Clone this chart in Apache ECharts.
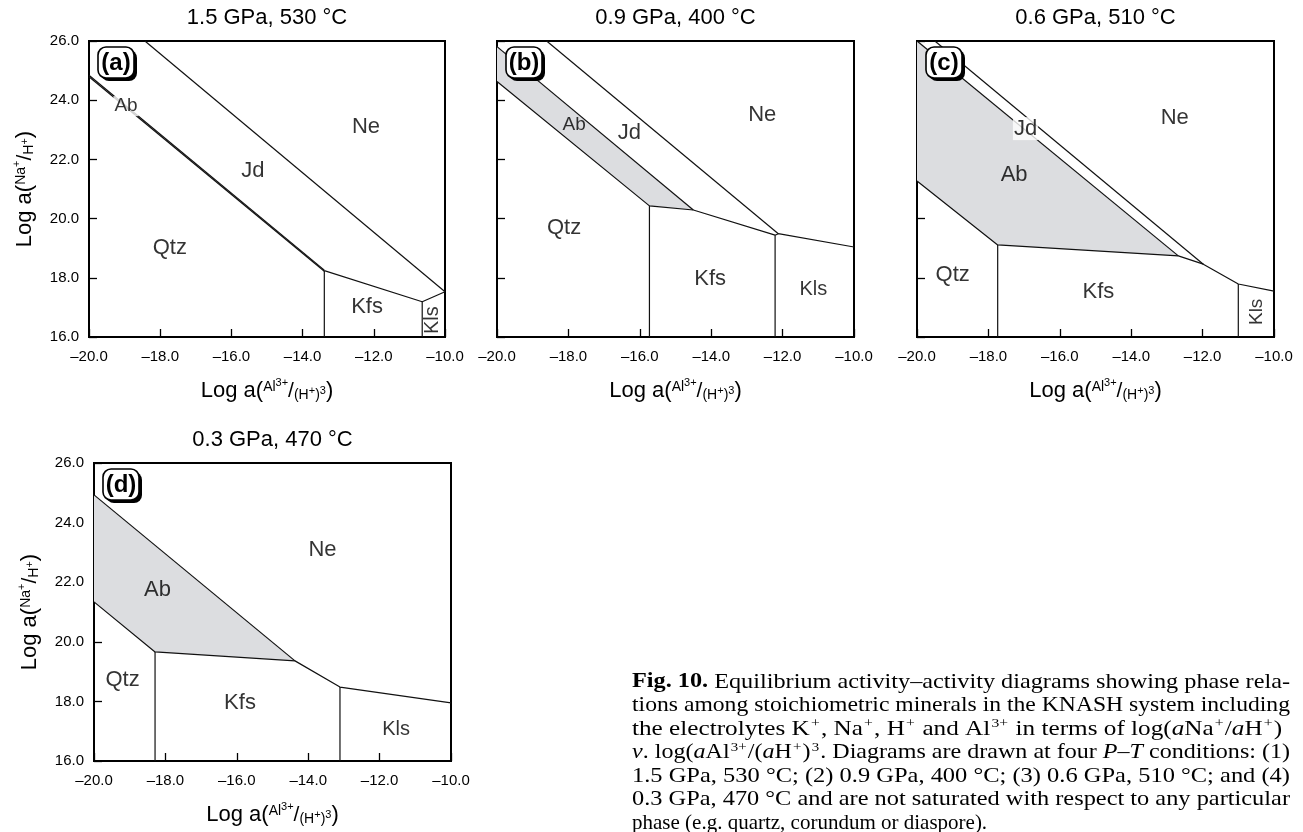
<!DOCTYPE html>
<html>
<head>
<meta charset="utf-8">
<script src="https://cdn.jsdelivr.net/npm/echarts@6/dist/echarts.min.js"></script>
<style>
html,body{margin:0;padding:0;background:#fff;}
#c{width:1303px;height:832px;}
</style>
</head>
<body>
<div id="c"></div>
<script>
// ---------------- data ----------------
const xTickValues = [-20, -18, -16, -14, -12, -10];
const yTickValues = [16, 18, 20, 22, 24, 26];
const panelTitles = ['1.5 GPa, 530 °C', '0.9 GPa, 400 °C', '0.6 GPa, 510 °C', '0.3 GPa, 470 °C'];
const panelTags = ['(a)', '(b)', '(c)', '(d)'];

// phase boundaries: log a(Al3+/(H+)3) , log a(Na+/H+)
const boundariesA = [
  [[-18.43, 26.0], [-10.0, 17.53]],
  [[-20.0, 24.84], [-13.39, 18.26]],
  [[-20.0, 24.79], [-13.39, 18.22]],
  [[-13.39, 18.24], [-10.64, 17.19], [-10.0, 17.53]],
  [[-13.39, 18.24], [-13.39, 16.0]],
  [[-10.64, 17.19], [-10.64, 16.0]]
];
const boundariesB = [
  [[-18.61, 26.0], [-12.12, 19.49]],
  [[-20.0, 25.81], [-14.5, 20.29]],
  [[-20.0, 24.63], [-15.73, 20.43], [-14.5, 20.29], [-12.21, 19.44], [-12.12, 19.49], [-10.0, 19.04]],
  [[-15.73, 20.43], [-15.73, 16.0]],
  [[-12.21, 19.44], [-12.21, 16.0]]
];
const boundariesC = [
  [[-19.5, 26.0], [-11.98, 18.46]],
  [[-20.0, 26.0], [-12.68, 18.74]],
  [[-20.0, 21.27], [-17.74, 19.11], [-12.68, 18.74], [-11.98, 18.46], [-11.0, 17.79], [-10.0, 17.55]],
  [[-17.74, 19.11], [-17.74, 16.0]],
  [[-11.0, 17.79], [-11.0, 16.0]]
];
const boundariesD = [
  [[-20.0, 24.93], [-14.37, 19.36]],
  [[-20.0, 21.34], [-18.29, 19.66], [-14.37, 19.36], [-13.11, 18.48], [-10.0, 17.95]],
  [[-18.29, 19.66], [-18.29, 16.0]],
  [[-13.11, 18.48], [-13.11, 16.0]]
];

// albite stability fields (shaded)
const albiteFieldA = [];
const albiteFieldB = [[-20.0, 25.81], [-14.5, 20.29], [-15.73, 20.43], [-20.0, 24.63]];
const albiteFieldC = [[-20.0, 26.0], [-12.68, 18.74], [-17.74, 19.11], [-20.0, 21.27]];
const albiteFieldD = [[-20.0, 24.93], [-14.37, 19.36], [-18.29, 19.66], [-20.0, 21.34]];

// field names
const fieldLabelsA = [['Ab', -18.96, 23.8], ['Jd', -15.4, 21.62], ['Ne', -12.22, 23.1], ['Qtz', -17.73, 19.0], ['Kfs', -12.19, 17.02], ['Kls', -10.34, 16.57]];
const fieldLabelsB = [['Ab', -17.84, 23.16], ['Jd', -16.29, 22.88], ['Ne', -12.57, 23.5], ['Qtz', -18.12, 19.67], ['Kfs', -14.03, 17.95], ['Kls', -11.14, 17.59]];
const fieldLabelsC = [['Jd', -16.96, 23.04], ['Ab', -17.28, 21.47], ['Ne', -12.78, 23.39], ['Qtz', -19.0, 18.09], ['Kfs', -14.92, 17.53], ['Kls', -10.48, 16.85]];
const fieldLabelsD = [['Ab', -18.22, 21.74], ['Ne', -13.6, 23.08], ['Qtz', -19.2, 18.72], ['Kfs', -15.91, 17.94], ['Kls', -11.54, 17.06]];

const captionLines = [
  '{b|Fig. 10.}{n| Equilibrium activity–activity diagrams showing phase rela-}',
  '{n|tions among stoichiometric minerals in the KNASH system including}',
  '{n|the electrolytes K}{sup|+}{n|, Na}{sup|+}{n|, H}{sup|+}{n| and Al}{sup|3+}{n| in terms of log(}{i|a}{n|Na}{sup|+}{n|/}{i|a}{n|H}{sup|+}{n|)}',
  '{i|v}{n|. log(}{i|a}{n|Al}{sup|3+}{n|/(}{i|a}{n|H}{sup|+}{n|)}{sup|3}{n|. Diagrams are drawn at four }{i|P–T}{n| conditions: (1)}',
  '{n|1.5 GPa, 530 °C; (2) 0.9 GPa, 400 °C; (3) 0.6 GPa, 510 °C; and (4)}',
  '{n|0.3 GPa, 470 °C and are not saturated with respect to any particular}',
  '{n|phase (e.g. quartz, corundum or diaspore).}'
];

// ---------------- layout / style ----------------
const FONT = '"Liberation Sans", Arial, Helvetica, sans-serif';
const SERIF = '"Liberation Serif", "Times New Roman", serif';
const GRAY = '#dcdde0';
const INK = '#111';

const grids = [
  {left: 89, top: 41, width: 356, height: 296},
  {left: 497, top: 41, width: 357, height: 296},
  {left: 917, top: 41, width: 357, height: 296},
  {left: 94, top: 463, width: 357, height: 298}
];
const boundaries = [boundariesA, boundariesB, boundariesC, boundariesD];
const fields = [albiteFieldA, albiteFieldB, albiteFieldC, albiteFieldD];
const fieldLabels = [fieldLabelsA, fieldLabelsB, fieldLabelsC, fieldLabelsD];
const showYLabels = [true, false, false, true];

const smallLabel = {0: {Ab: 19, Kls: 20}, 1: {Ab: 19, Kls: 20}, 2: {Kls: 19}, 3: {Kls: 20}};
const rotatedLabel = {0: ['Kls'], 2: ['Kls']};
const boxedLabel = {0: ['Ab'], 2: ['Jd']};

const nameRich = {
  m: {fontFamily: FONT, fontSize: 22, color: '#000'},
  sl: {fontFamily: FONT, fontSize: 21, color: '#000'},
  s: {fontFamily: FONT, fontSize: 14, color: '#000', padding: [0, 0, 8, 0]},
  ss: {fontFamily: FONT, fontSize: 11, color: '#000', padding: [0, 0, 17, 0]},
  b: {fontFamily: FONT, fontSize: 14, color: '#000', padding: [8, 0, 0, 0]},
  bs: {fontFamily: FONT, fontSize: 11, color: '#000', padding: [0, 0, 0, 0]}
};
const xName = '{m|Log a(}{s|Al}{ss|3+}{sl|/}{b|(H}{bs|+}{b|)}{bs|3}{m|)}';
const yName = '{m|Log a(}{s|Na}{ss|+}{sl|/}{b|H}{bs|+}{m|)}';

function fmtX(v) { return (v < 0 ? '–' : '') + Math.abs(v).toFixed(1); }
function fmtY(v) { return v.toFixed(1); }

const gridOpts = [], xAxes = [], yAxes = [], series = [], titles = [], graphics = [];

grids.forEach((g, i) => {
  gridOpts.push({
    left: g.left, top: g.top, width: g.width, height: g.height,
    show: true, borderColor: '#000', borderWidth: 2, backgroundColor: 'transparent',
    containLabel: false, outerBoundsMode: 'none'
  });
  xAxes.push({
    type: 'value', gridIndex: i, min: xTickValues[0], max: xTickValues[xTickValues.length - 1],
    interval: xTickValues[1] - xTickValues[0],
    axisLine: {show: false},
    axisTick: {show: true, inside: true, length: 8, lineStyle: {color: '#000', width: 1.3}},
    splitLine: {show: false},
    axisLabel: {show: true, margin: 12, fontSize: 15, color: '#000', fontFamily: FONT,
      formatter: fmtX, showMinLabel: true, showMaxLabel: true, hideOverlap: false},
    name: xName, nameLocation: 'middle', nameGap: 40, nameMoveOverlap: false,
    nameTextStyle: {rich: nameRich, fontFamily: FONT, fontSize: 22, color: '#000'}
  });
  yAxes.push({
    type: 'value', gridIndex: i, min: yTickValues[0], max: yTickValues[yTickValues.length - 1],
    interval: yTickValues[1] - yTickValues[0],
    axisLine: {show: false},
    axisTick: {show: true, inside: true, length: 8, lineStyle: {color: '#000', width: 1.3}},
    splitLine: {show: false},
    axisLabel: {show: showYLabels[i], margin: 10, fontSize: 15, color: '#000', fontFamily: FONT,
      formatter: fmtY, showMinLabel: true, showMaxLabel: true, hideOverlap: false},
    name: showYLabels[i] ? yName : '', nameLocation: 'middle', nameGap: 50, nameMoveOverlap: false,
    nameTextStyle: {rich: nameRich, fontFamily: FONT, fontSize: 22, color: '#000'}
  });

  // shaded albite field
  const field = fields[i];
  if (field.length) {
    series.push({
      type: 'custom', xAxisIndex: i, yAxisIndex: i, silent: true, z: 1, animation: false,
      data: field,
      renderItem: function (params, api) {
        if (params.dataIndex !== 0) return null;
        const pts = field.map(p => api.coord(p));
        return {type: 'polygon', shape: {points: pts}, style: {fill: GRAY, stroke: null}};
      }
    });
  }
  // boundaries
  boundaries[i].forEach(line => {
    series.push({
      type: 'line', xAxisIndex: i, yAxisIndex: i, data: line, symbol: 'none', silent: true,
      animation: false, z: 3, lineStyle: {color: INK, width: 1.2}
    });
  });
  // field labels
  series.push({
    type: 'scatter', xAxisIndex: i, yAxisIndex: i, symbolSize: 1, silent: true, animation: false, z: 5,
    itemStyle: {color: 'transparent'},
    label: {show: true, position: 'inside', formatter: '{b}', color: '#000', fontSize: 22, fontFamily: FONT},
    data: fieldLabels[i].map(([n, x, y]) => {
      const lab = {};
      if (smallLabel[i] && smallLabel[i][n]) lab.fontSize = smallLabel[i][n];
      if (rotatedLabel[i] && rotatedLabel[i].includes(n)) lab.rotate = 90;
      if (boxedLabel[i] && boxedLabel[i].includes(n)) { lab.backgroundColor = '#fff'; lab.padding = [1, 1, 0, 1]; }
      return {name: n, value: [x, y], label: lab};
    })
  });

  // panel title
  titles.push({
    text: panelTitles[i], left: g.left + g.width / 2, top: g.top - 34, textAlign: 'center', padding: 0,
    textStyle: {fontSize: 22, fontWeight: 'normal', color: '#000', fontFamily: FONT}
  });

  // (a)..(d) tag boxes
  const tx = g.left + 9, ty = g.top + 6, tw = 36, th = 31;
  graphics.push({type: 'rect', z: 100, silent: true, shape: {x: tx + 3, y: ty + 3, width: tw, height: th, r: 8}, style: {fill: '#000'}});
  graphics.push({type: 'rect', z: 101, silent: true, shape: {x: tx, y: ty, width: tw, height: th, r: 8}, style: {fill: '#fff', stroke: '#000', lineWidth: 1.6}});
  graphics.push({type: 'text', z: 102, silent: true, x: tx + tw / 2, y: ty + th / 2 + 1,
    style: {text: panelTags[i], fill: '#000', font: 'bold 24px ' + FONT, textAlign: 'center', textVerticalAlign: 'middle', align: 'center', verticalAlign: 'middle'}});
});

// caption
const CAP_SIZE = 21;
const capRich = {
  n: {fontFamily: SERIF, fontSize: CAP_SIZE, color: '#000'},
  b: {fontFamily: SERIF, fontSize: CAP_SIZE, fontWeight: 'bold', color: '#000'},
  i: {fontFamily: SERIF, fontSize: CAP_SIZE, fontStyle: 'italic', color: '#000'},
  sup: {fontFamily: SERIF, fontSize: 13, color: '#000', padding: [0, 1, 11, 1]}
};
const capLeft = 632, capRight = 1290, capTop = 682, capStep = 23.55;
function measureRich(text) {
  const el = new echarts.graphic.Text({style: {text: text, rich: capRich, fontFamily: SERIF, fontSize: CAP_SIZE}});
  return el.getBoundingRect().width;
}
captionLines.forEach((t, k) => {
  let sx = 1;
  if (k < captionLines.length - 1) {
    const w = measureRich(t);
    if (w > 0) sx = Math.max(0.85, Math.min(1.2, (capRight - capLeft) / w));
  }
  graphics.push({type: 'text', z: 50, silent: true, x: capLeft, y: capTop + k * capStep, scaleX: sx,
    style: {text: t, rich: capRich, fill: '#000', font: CAP_SIZE + 'px ' + SERIF,
      textAlign: 'left', textVerticalAlign: 'middle', align: 'left', verticalAlign: 'middle'}});
});

const chart = echarts.init(document.getElementById('c'), null, {renderer: 'canvas'});
chart.setOption({
  animation: false,
  backgroundColor: '#fff',
  title: titles,
  grid: gridOpts,
  xAxis: xAxes,
  yAxis: yAxes,
  series: series,
  graphic: {elements: graphics}
});
</script>
</body>
</html>
